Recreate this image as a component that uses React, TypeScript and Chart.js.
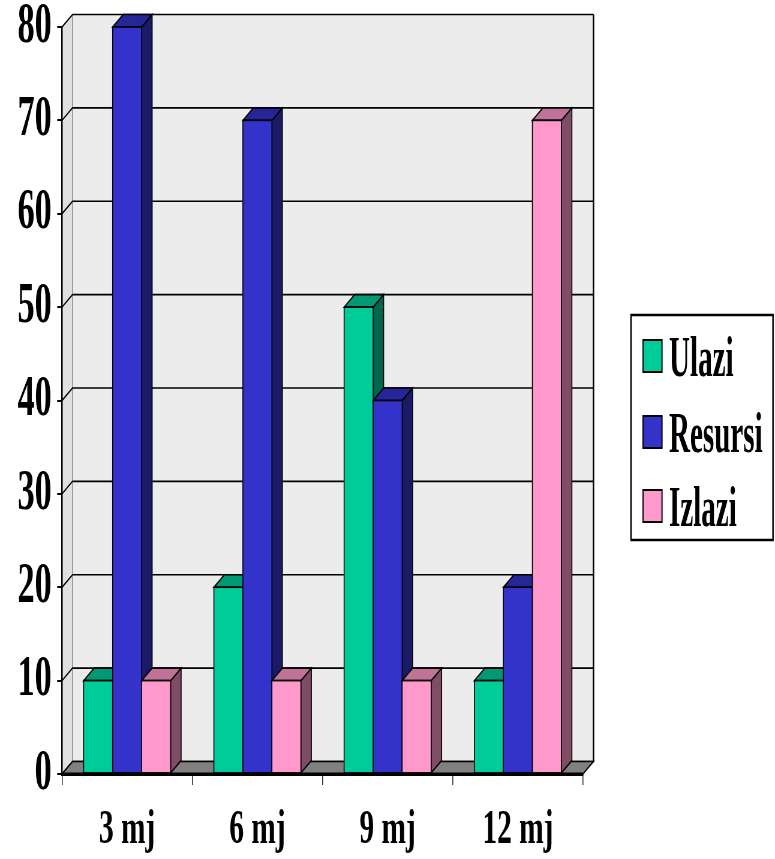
import React, { useEffect, useRef } from 'react';
import { Chart, registerables } from 'chart.js';

Chart.register(...registerables);

// ---- data ----
const categories = ['3 mj', '6 mj', '9 mj', '12 mj'];
const seriesNames = ['Ulazi', 'Resursi', 'Izlazi'];
const ulazi = [10, 20, 50, 10];
const resursi = [80, 70, 40, 20];
const izlazi = [10, 10, 10, 70];
const yTicks = [0, 10, 20, 30, 40, 50, 60, 70, 80];

// ---- styles ----
const FRONT = ['#00cc99', '#3333cc', '#ff99cc'];
const TOP = ['#009973', '#262699', '#bf7399'];
const SIDE = ['#00664d', '#1a1a66', '#804d66'];
const FONT = "'Liberation Serif', 'Times New Roman', serif";

// page geometry (screen px) ; canvas is drawn wide and squeezed horizontally
const CSS_W = 775;
const CSS_H = 859;
const SQUEEZE = 0.6;
const CW = Math.round(CSS_W / SQUEEZE);
const K = CW / CSS_W; // screen x -> canvas x

const PLOT_LEFT = 62;
const PLOT_RIGHT = 583;
const PLOT_TOP = 27;
const PLOT_BOTTOM = 774;
const DXc = 10.5 * K;
const DY = 12.5;

const threeD = {
  id: 'threeD',
  beforeDraw(chart: any) {
    const { ctx, chartArea } = chart;
    const { left: L, right: R, top: T, bottom: B } = chartArea;
    const ys = chart.scales.y;
    ctx.save();
    // back wall
    ctx.fillStyle = '#ececec';
    ctx.fillRect(L + DXc, T - DY, R - L, B - T);
    // left wall
    ctx.fillStyle = '#e0e0e0';
    ctx.beginPath();
    ctx.moveTo(L, T);
    ctx.lineTo(L + DXc, T - DY);
    ctx.lineTo(L + DXc, B - DY);
    ctx.lineTo(L, B);
    ctx.closePath();
    ctx.fill();
    // left back edge
    ctx.strokeStyle = '#777';
    ctx.lineWidth = 1.2;
    ctx.beginPath();
    ctx.moveTo(L + DXc, T - DY);
    ctx.lineTo(L + DXc, B - DY);
    ctx.stroke();
    // gridlines on walls
    ctx.strokeStyle = '#000';
    ctx.lineWidth = 1.6;
    yTicks.forEach((v) => {
      const y = ys.getPixelForValue(v);
      ctx.beginPath();
      ctx.moveTo(L, y);
      ctx.lineTo(L + DXc, y - DY);
      ctx.lineTo(R + DXc, y - DY);
      ctx.stroke();
    });
    // right edge of back wall
    ctx.lineWidth = 2.5;
    ctx.beginPath();
    ctx.moveTo(R + DXc, T - DY);
    ctx.lineTo(R + DXc, B - DY);
    ctx.stroke();
    // floor
    ctx.fillStyle = '#808080';
    ctx.lineWidth = 1.6;
    ctx.beginPath();
    ctx.moveTo(L, B);
    ctx.lineTo(R, B);
    ctx.lineTo(R + DXc, B - DY);
    ctx.lineTo(L + DXc, B - DY);
    ctx.closePath();
    ctx.fill();
    ctx.stroke();
    ctx.restore();
  },
  afterDatasetsDraw(chart: any) {
    const { ctx } = chart;
    const metas = chart.data.datasets.map((_: any, i: number) => chart.getDatasetMeta(i));
    ctx.save();
    ctx.strokeStyle = '#000';
    ctx.lineWidth = 1.6;
    ctx.lineJoin = 'miter';
    for (let j = 0; j < categories.length; j++) {
      metas.forEach((meta: any, i: number) => {
        const el = meta.data[j];
        if (!el) return;
        const { x, y, base, width } = el.getProps(['x', 'y', 'base', 'width'], true);
        const l = x - width / 2;
        const r = x + width / 2;
        // side
        ctx.fillStyle = SIDE[i];
        ctx.beginPath();
        ctx.moveTo(r, y);
        ctx.lineTo(r + DXc, y - DY);
        ctx.lineTo(r + DXc, base - DY);
        ctx.lineTo(r, base);
        ctx.closePath();
        ctx.fill();
        ctx.stroke();
        // top
        ctx.fillStyle = TOP[i];
        ctx.beginPath();
        ctx.moveTo(l, y);
        ctx.lineTo(r, y);
        ctx.lineTo(r + DXc, y - DY);
        ctx.lineTo(l + DXc, y - DY);
        ctx.closePath();
        ctx.fill();
        ctx.stroke();
        // front
        ctx.fillStyle = FRONT[i];
        ctx.fillRect(l, y, width, base - y);
        ctx.strokeRect(l, y, width, base - y);
      });
    }
    // front x axis line again
    const { left: L, right: R, bottom: B } = chart.chartArea;
    ctx.lineWidth = 3;
    ctx.beginPath();
    ctx.moveTo(L, B);
    ctx.lineTo(R, B);
    ctx.stroke();
    ctx.restore();
  },
  afterDraw(chart: any) {
    const { ctx } = chart;
    ctx.save();
    const bx = 631 * K;
    const bw = (773 - 631) * K;
    const by = 315;
    const bh = 540 - 315;
    ctx.fillStyle = '#fff';
    ctx.fillRect(bx, by, bw, bh);
    ctx.strokeStyle = '#000';
    ctx.lineWidth = 2.5;
    ctx.strokeRect(bx, by, bw, bh);
    const rows = [356, 432, 506];
    chart.data.datasets.forEach((ds: any, i: number) => {
      const cy = rows[i];
      ctx.fillStyle = ds.backgroundColor;
      ctx.lineWidth = 2;
      ctx.fillRect(643 * K, cy - 16, 19 * K, 32);
      ctx.strokeRect(643 * K, cy - 16, 19 * K, 32);
      ctx.save();
      ctx.translate(669 * K, cy + 20);
      ctx.scale(0.85, 1);
      ctx.fillStyle = '#000';
      ctx.font = `bold 57px ${FONT}`;
      ctx.textBaseline = 'alphabetic';
      ctx.textAlign = 'left';
      ctx.fillText(ds.label, 0, 0);
      ctx.restore();
    });
    ctx.restore();
  },
};

export default function App() {
  const ref = useRef<HTMLCanvasElement>(null);
  useEffect(() => {
    const canvas = ref.current!;
    const seriesData = [ulazi, resursi, izlazi];
    const chart = new Chart(canvas, {
      type: 'bar',
      data: {
        labels: categories,
        datasets: seriesNames.map((name, i) => ({
          label: name,
          data: seriesData[i],
          backgroundColor: FRONT[i],
          borderColor: '#000',
          borderWidth: 1.5,
          borderSkipped: false,
          categoryPercentage: 0.668,
          barPercentage: 1,
          clip: false as any,
        })),
      },
      options: {
        responsive: false,
        devicePixelRatio: 1,
        animation: false,
        events: [],
        layout: {
          padding: { left: 0, right: CW - PLOT_RIGHT * K, top: PLOT_TOP, bottom: 0 },
        },
        plugins: {
          legend: { display: false },
          tooltip: { enabled: false },
        },
        scales: {
          x: {
            type: 'category',
            offset: true,
            grid: {
              display: true,
              drawOnChartArea: false,
              drawTicks: true,
              tickLength: 11,
              color: '#333',
              lineWidth: 1.6,
              offset: true,
            },
            border: { display: true, color: '#000', width: 3 },
            ticks: {
              color: '#000',
              font: { family: FONT, weight: 'bold', size: 49 },
              padding: 16,
              maxRotation: 0,
              autoSkip: false,
            },
            afterFit: (s: any) => {
              s.height = CSS_H - PLOT_BOTTOM;
              s.paddingLeft = 0;
              s.paddingRight = 0;
            },
          },
          y: {
            min: 0,
            max: 80,
            ticks: {
              stepSize: 10,
              color: '#000',
              font: { family: FONT, weight: 'bold', size: 57 },
              padding: 9,
            },
            afterBuildTicks: (s: any) => {
              s.ticks = yTicks.map((v) => ({ value: v }));
            },
            grid: {
              display: true,
              drawOnChartArea: false,
              drawTicks: true,
              tickLength: 8,
              color: '#000',
              lineWidth: 2,
            },
            border: { display: true, color: '#000', width: 2.5 },
            afterFit: (s: any) => {
              s.width = PLOT_LEFT * K;
              s.paddingTop = 0;
              s.paddingBottom = 0;
            },
          },
        },
      } as any,
      plugins: [threeD],
    });
    return () => chart.destroy();
  }, []);

  return (
    <div style={{ position: 'fixed', left: 0, top: 0, width: CSS_W, height: CSS_H, background: '#fff' }}>
      <canvas
        ref={ref}
        width={CW}
        height={CSS_H}
        style={{ width: `${CSS_W}px`, height: `${CSS_H}px`, display: 'block' }}
      />
    </div>
  );
}
